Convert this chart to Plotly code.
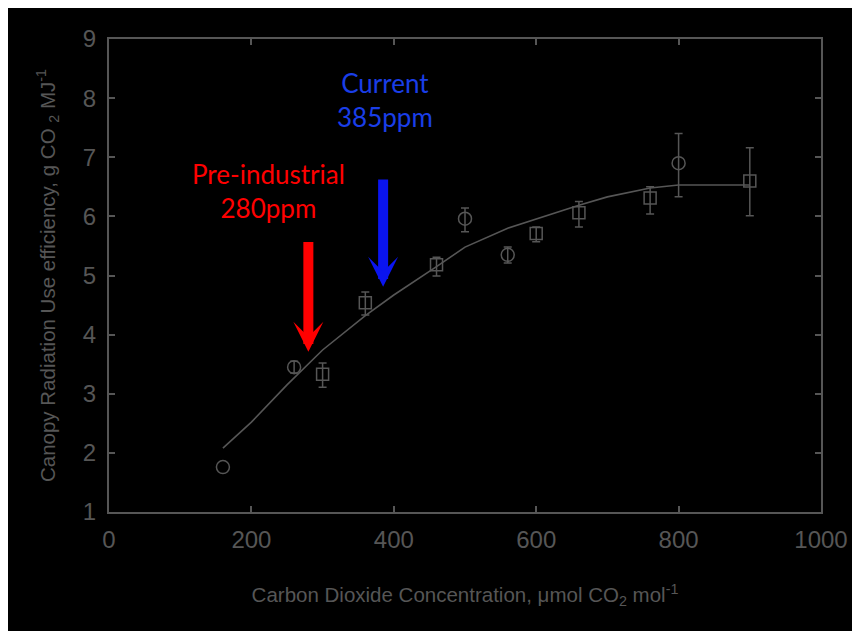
import plotly.graph_objects as go

# ---- data ----
circle_x = [160, 260, 500, 560, 800]
circle_y = [1.76, 3.45, 5.96, 5.35, 6.90]
circle_err_plus = [0.0, 0.10, 0.18, 0.13, 0.50]
circle_err_minus = [0.0, 0.10, 0.22, 0.14, 0.57]

square_x = [300, 360, 460, 600, 660, 760, 900]
square_y = [3.33, 4.54, 5.18, 5.71, 6.06, 6.31, 6.60]
square_err_plus = [0.19, 0.18, 0.13, 0.11, 0.19, 0.19, 0.56]
square_err_minus = [0.22, 0.21, 0.19, 0.14, 0.24, 0.27, 0.59]

fit_x = [160, 200, 250, 300, 360, 400, 460, 500, 560, 600, 660, 700, 760, 800, 900]
fit_y = [2.08, 2.52, 3.15, 3.74, 4.32, 4.67, 5.15, 5.48, 5.80, 5.96, 6.19, 6.33, 6.48, 6.53, 6.53]

x_ticks = [0, 200, 400, 600, 800, 1000]
y_ticks = [1, 2, 3, 4, 5, 6, 7, 8, 9]

preindustrial_ppm = 280
current_ppm = 385

GRAY = "#565656"
FONT = "Liberation Sans, Arial, sans-serif"
LABEL_FONT = "Lato, Open Sans, sans-serif"

fig = go.Figure()

fig.add_trace(go.Scatter(
    x=fit_x, y=fit_y, mode="lines",
    line=dict(color=GRAY, width=1.6), hoverinfo="skip", showlegend=False))

circle_marker = dict(symbol="circle-open", size=13, color=GRAY, line=dict(width=1.5, color=GRAY))
square_marker = dict(symbol="square-open", size=12, color=GRAY, line=dict(width=1.5, color=GRAY))

# split circles into those without and with visible error bars
no_err = [i for i in range(len(circle_x)) if circle_err_plus[i] == 0 and circle_err_minus[i] == 0]
with_err = [i for i in range(len(circle_x)) if i not in no_err]

fig.add_trace(go.Scatter(
    x=[circle_x[i] for i in no_err], y=[circle_y[i] for i in no_err], mode="markers",
    marker=circle_marker, showlegend=False))

fig.add_trace(go.Scatter(
    x=[circle_x[i] for i in with_err], y=[circle_y[i] for i in with_err], mode="markers",
    marker=circle_marker,
    error_y=dict(type="data", symmetric=False,
                 array=[circle_err_plus[i] for i in with_err],
                 arrayminus=[circle_err_minus[i] for i in with_err],
                 color=GRAY, thickness=1.5, width=4),
    showlegend=False))

fig.add_trace(go.Scatter(
    x=square_x, y=square_y, mode="markers",
    marker=square_marker,
    error_y=dict(type="data", symmetric=False, array=square_err_plus,
                 arrayminus=square_err_minus, color=GRAY, thickness=1.5, width=4),
    showlegend=False))

# arrows
fig.add_annotation(x=preindustrial_ppm, y=3.71, ax=preindustrial_ppm, ay=5.59,
                   xref="x", yref="y", axref="x", ayref="y", text="",
                   showarrow=True, arrowhead=3, arrowsize=0.5, arrowwidth=10,
                   arrowcolor="#ff0000")
fig.add_annotation(x=current_ppm, y=4.81, ax=current_ppm, ay=6.65,
                   xref="x", yref="y", axref="x", ayref="y", text="",
                   showarrow=True, arrowhead=3, arrowsize=0.5, arrowwidth=10,
                   arrowcolor="#0a14f0")

# labels
fig.add_annotation(x=224, y=6.43, xref="x", yref="y", showarrow=False,
                   text="Pre-industrial<br>280ppm",
                   font=dict(family=LABEL_FONT, size=26, color="#ff0000"))
fig.add_annotation(x=387, y=7.97, xref="x", yref="y", showarrow=False,
                   text="Current<br>385ppm",
                   font=dict(family=LABEL_FONT, size=26, color="#1a3ee8"))

axis_common = dict(
    showline=True, linecolor=GRAY, linewidth=2, mirror="ticks",
    ticks="inside", ticklen=6, tickwidth=2, tickcolor=GRAY,
    showgrid=False, zeroline=False,
    tickfont=dict(family=FONT, size=24, color=GRAY),
)

fig.update_layout(
    width=852, height=623,
    margin=dict(l=101, r=31, t=31, b=119),
    paper_bgcolor="black", plot_bgcolor="black",
    xaxis=dict(range=[0, 1000], tickvals=x_ticks, ticklabelstandoff=5, **axis_common,
               title=dict(text="Carbon Dioxide Concentration, μmol CO<sub>2</sub> mol<sup>-1</sup>",
                          font=dict(family=FONT, size=20.5, color=GRAY), standoff=36)),
    yaxis=dict(range=[1, 9], tickvals=y_ticks, ticklabelstandoff=6, **axis_common,
               title=dict(text="Canopy Radiation Use efficiency, g CO <sub>2</sub> MJ<sup>-1</sup>",
                          font=dict(family=FONT, size=20.5, color=GRAY), standoff=22)),
)

fig.write_html("out.html")
